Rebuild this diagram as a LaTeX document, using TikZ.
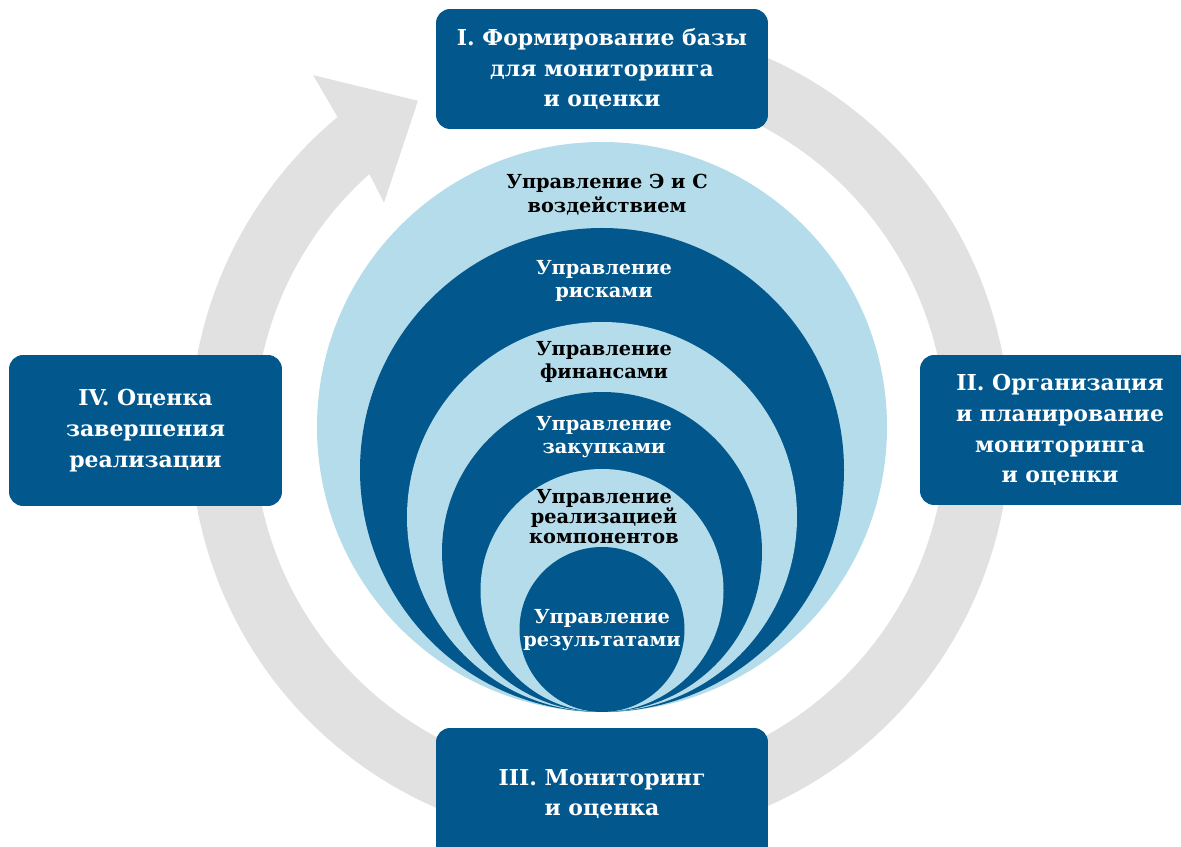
\documentclass[tikz,border=0pt]{standalone}
\usepackage{fontspec}
\setmainfont{DejaVu Serif}

\definecolor{stageblue}{RGB}{2,88,140}
\definecolor{layerlight}{RGB}{181,220,234}
\definecolor{cyclegray}{RGB}{225,225,225}

\begin{document}
\begin{tikzpicture}[x=0.02cm,y=0.02cm,
	stage/.style={fill=stageblue, rounded corners=8pt, text=white, align=center, inner sep=0pt, font=\bfseries\fontsize{12.5}{17.5}\selectfont},
	layer/.style={align=center, inner sep=0pt, font=\bfseries\fontsize{11}{13.5}\selectfont}]

	\useasboundingbox (0,0) rectangle (1181,846);

	% Draw cycle arrow
	\begin{scope}[shift={(600,414)}]
	\fill[cyclegray] (105:410) arc[start angle=105, end angle=-230.2, radius=410] -- (128.8:458) -- (118.8:378) -- (133.3:315) -- (131.8:346) arc[start angle=-228.2, end angle=105, radius=346] -- cycle;
	\end{scope}

	% Draw nested circles
	\fill[layerlight] (602,419) circle (285);
	\fill[stageblue] (602,376) circle (242);
	\fill[layerlight] (602,329) circle (195);
	\fill[stageblue] (602,294) circle (160);
	\fill[layerlight] (602,255.5) circle (121.5);
	\fill[stageblue] (602,216.5) circle (82.5);

	% Labels
	\node[layer] (impact) at (607,651) {Управление Э и С\\воздействием};
	\node[layer, text=white] (risks) at (604,565) {Управление\\рисками};
	\node[layer] (finance) at (604,484) {Управление\\финансами};
	\node[layer, text=white] (procure) at (604,409) {Управление\\закупками};
	\node[layer, font=\bfseries\fontsize{11}{11.4}\selectfont] (compon) at (604,329) {Управление\\реализацией\\компонентов};
	\node[layer, text=white] (results) at (602,216) {Управление\\результатами};

	% Draw stages
	\node[stage, minimum width=6.64cm, minimum height=2.4cm] (base) at (602,777) {I. Формирование базы\\для мониторинга\\и оценки};
	\node[stage, minimum width=5.6cm, minimum height=3cm] (plan) at (1060,416) {II. Организация\\и планирование\\мониторинга\\и оценки};
	\node[stage, minimum width=6.64cm, minimum height=2.64cm] (monit) at (602,52) {III. Мониторинг\\и оценка};
	\node[stage, minimum width=5.46cm, minimum height=3.02cm] (final) at (145.5,415.5) {IV. Оценка\\завершения\\реализации};

\end{tikzpicture}
\end{document}
